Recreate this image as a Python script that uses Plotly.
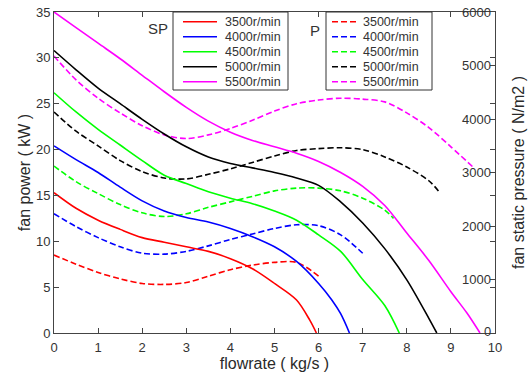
import plotly.graph_objects as go

speeds = ["3500r/min", "4000r/min", "4500r/min", "5000r/min", "5500r/min"]
colors = ["#ff0000", "#0000ff", "#00ff00", "#000000", "#ff00ff"]

# Static pressure (SP, solid, N/m2) vs flowrate (kg/s)
sp_flow = [
    [0, 0.5, 1, 1.5, 2, 2.5, 3, 3.5, 4, 4.5, 5, 5.5, 5.8, 5.95],
    [0, 0.5, 1, 1.5, 2, 2.5, 3, 3.5, 4, 4.5, 5, 5.5, 6, 6.3, 6.5, 6.7],
    [0, 0.5, 1, 1.5, 2, 2.5, 3, 3.5, 4, 4.5, 5, 5.5, 6, 6.5, 7, 7.5, 7.83],
    [0, 0.5, 1, 1.5, 2, 2.5, 3, 3.5, 4, 4.5, 5, 5.5, 6, 6.5, 7, 7.5, 8, 8.5, 8.68],
    [0, 0.5, 1, 1.5, 2, 2.5, 3, 3.5, 4, 4.5, 5, 5.5, 6, 6.5, 7, 7.5, 8, 8.5, 9, 9.36, 9.66],
]
sp_val = [
    [2623, 2331, 2109, 1937, 1783, 1697, 1611, 1526, 1389, 1200, 926, 617, 240, 0],
    [3497, 3240, 3000, 2726, 2469, 2280, 2160, 2074, 1954, 1800, 1611, 1337, 926, 617, 360, 0],
    [4491, 4131, 3806, 3514, 3223, 2949, 2794, 2640, 2520, 2417, 2280, 2109, 1834, 1526, 1000, 514, 0],
    [5280, 4920, 4577, 4286, 3994, 3720, 3480, 3290, 3170, 3086, 3000, 2897, 2760, 2451, 2057, 1577, 994, 274, 0],
    [6000, 5709, 5417, 5126, 4817, 4509, 4217, 3960, 3754, 3600, 3480, 3360, 3206, 3000, 2740, 2383, 1869, 1354, 771, 377, 0],
]

# Fan power (P, dashed, kW) vs flowrate (kg/s)
p_flow = [
    [0, 0.5, 1, 1.5, 2, 2.5, 3, 3.5, 4, 4.5, 5, 5.5, 6],
    [0, 0.5, 1, 1.5, 2, 2.5, 3, 3.5, 4, 4.5, 5, 5.5, 6, 6.5, 7],
    [0, 0.5, 1, 1.5, 2, 2.5, 3, 3.5, 4, 4.5, 5, 5.5, 6, 6.5, 7, 7.5, 7.7],
    [0, 0.5, 1, 1.5, 2, 2.5, 3, 3.5, 4, 4.5, 5, 5.5, 6, 6.5, 7, 7.5, 8, 8.5, 8.75],
    [0, 0.5, 1, 1.5, 2, 2.5, 3, 3.5, 4, 4.5, 5, 5.5, 6, 6.5, 7, 7.5, 8, 8.5, 9, 9.5],
]
p_val = [
    [8.5, 7.5, 6.6, 5.9, 5.4, 5.3, 5.5, 6.2, 6.9, 7.4, 7.7, 7.7, 6.2],
    [13.0, 11.6, 10.4, 9.4, 8.7, 8.6, 8.9, 9.5, 10.2, 10.8, 11.4, 11.8, 11.7, 10.7, 8.7],
    [18.2, 16.5, 15.2, 14.0, 13.1, 12.7, 13.0, 13.7, 14.3, 14.9, 15.5, 15.8, 15.8, 15.5, 14.7, 13.4, 12.5],
    [24.1, 22.0, 20.4, 18.8, 17.6, 16.9, 16.8, 17.3, 17.9, 18.6, 19.3, 19.9, 20.1, 20.2, 20.0, 19.2, 18.1, 16.6, 15.3],
    [30.2, 27.6, 25.6, 24.0, 22.6, 21.6, 21.2, 21.6, 22.3, 23.2, 24.2, 25.0, 25.4, 25.6, 25.5, 25.2, 24.0, 22.4, 20.3, 18.1],
]

# Right-axis tick labels (N/m2)
sp_ticks = [0, 1000, 2000, 3000, 4000, 5000, 6000]

fig = go.Figure()
for i in range(5):
    fig.add_trace(go.Scatter(x=sp_flow[i], y=sp_val[i], yaxis="y2", mode="lines",
                             line=dict(color=colors[i], width=1.6, shape="spline", smoothing=0.9),
                             name=speeds[i], showlegend=False))
for i in range(5):
    fig.add_trace(go.Scatter(x=p_flow[i], y=p_val[i], yaxis="y", mode="lines",
                             line=dict(color=colors[i], width=1.6, dash="6px,3px", shape="spline", smoothing=0.9),
                             name=speeds[i], showlegend=False))

W, H = 530, 372
L, R, T, B = 54, 35, 12, 39
PW, PH = W - L - R, H - T - B

def px(xp):
    return (xp - L) / PW

def py(yp):
    return (H - B - yp) / PH

axcol = "#444444"
FAM = "Liberation Sans, Arial, sans-serif"
tickfont = dict(family=FAM, size=13, color="#333333")
titlefont = dict(family=FAM, size=16, color="#2a2a2a")

shapes = []
annotations = []

def make_legend(x0, x1, sx0, sx1, tx, dash):
    shapes.append(dict(type="rect", xref="paper", yref="paper",
                       x0=px(x0), x1=px(x1), y0=py(90), y1=py(12),
                       line=dict(color="#333333", width=1), fillcolor="white", layer="above"))
    for i in range(5):
        yy = 21.7 + 15 * i
        shapes.append(dict(type="line", xref="paper", yref="paper",
                           x0=px(sx0), x1=px(sx1), y0=py(yy), y1=py(yy),
                           line=dict(color=colors[i], width=1.5, dash=dash), layer="above"))
        annotations.append(dict(text=speeds[i], xref="paper", yref="paper",
                                x=px(tx), y=py(yy), xanchor="left", yanchor="middle",
                                showarrow=False,
                                font=dict(family=FAM, size=12.5, color="#333333")))

make_legend(173, 288, 183, 217, 223, "solid")
make_legend(326, 432, 332, 356, 361, "6px,3px")

annotations.append(dict(text="SP", xref="paper", yref="paper", x=px(158), y=py(28),
                        xanchor="center", yanchor="middle", showarrow=False,
                        font=dict(family=FAM, size=15, color="#333333")))
annotations.append(dict(text="P", xref="paper", yref="paper", x=px(315), y=py(30),
                        xanchor="center", yanchor="middle", showarrow=False,
                        font=dict(family=FAM, size=15, color="#333333")))

for v in sp_ticks:
    annotations.append(dict(text=str(v), xref="paper", yref="y2", x=1, y=v,
                            xanchor="right", yanchor="middle", xshift=-2,
                            yshift=2 if v == 0 else 0,
                            showarrow=False, font=tickfont))

fig.update_layout(
    width=W, height=H,
    margin=dict(l=L, r=R, t=T, b=B, autoexpand=False),
    paper_bgcolor="white", plot_bgcolor="white",
    showlegend=False,
    xaxis=dict(range=[0, 10], dtick=1, showgrid=False, zeroline=False, automargin=False,
               showline=True, linecolor=axcol, linewidth=1, mirror="ticks",
               ticks="inside", ticklen=5, tickcolor=axcol, tickfont=tickfont,
               ticklabelstandoff=2,
               title=dict(text="flowrate ( kg/s )", font=titlefont, standoff=0)),
    yaxis=dict(range=[0, 35], dtick=5, showgrid=False, zeroline=False, automargin=False,
               showline=True, linecolor=axcol, linewidth=1, mirror="ticks",
               ticks="inside", ticklen=5, tickcolor=axcol, tickfont=tickfont,
               title=dict(text="fan power ( kW )", font=titlefont, standoff=1)),
    yaxis2=dict(range=[0, 6000], dtick=1000, overlaying="y", side="right", automargin=False,
                showgrid=False, zeroline=False, showline=True, linecolor=axcol,
                ticks="inside", ticklen=5, tickcolor=axcol, showticklabels=False,
                title=dict(text="fan static pressure ( N/m2 )", font=titlefont, standoff=17)),
    shapes=shapes,
    annotations=annotations,
)

fig.write_html("out.html")
